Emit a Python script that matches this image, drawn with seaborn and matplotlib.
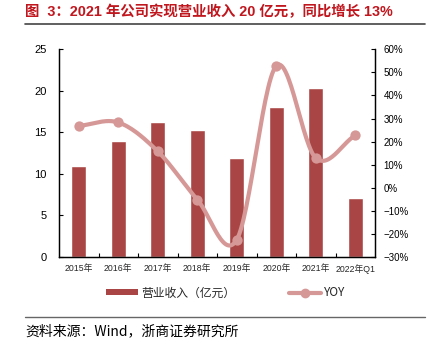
import numpy as np
import pandas as pd
import matplotlib
matplotlib.use("Agg")
import matplotlib.pyplot as plt
from matplotlib.lines import Line2D
from matplotlib.patches import Patch
from matplotlib.ticker import FuncFormatter, MultipleLocator, FixedLocator
import seaborn as sns

categories = ["2015年", "2016年", "2017年", "2018年", "2019年", "2020年", "2021年", "2022年Q1"]
revenue = [10.95, 14.0, 16.2, 15.3, 11.9, 18.05, 20.3, 7.06]
yoy = [26.8, 28.3, 15.8, -5.1, -22.5, 52.8, 12.9, 22.7]

title = "图  3：2021 年公司实现营业收入 20 亿元，同比增长 13%"
source = "资料来源：Wind，浙商证券研究所"
bar_label = "营业收入（亿元）"
line_label = "YOY"

sns.set_theme(style="white")
plt.rcParams["font.family"] = ["Liberation Sans", "Noto Sans CJK SC", "DejaVu Sans"]
plt.rcParams["axes.unicode_minus"] = True

BAR = "#A94645"
LINE = "#D69896"
RED = "#C0161E"
CJK = ["Noto Sans CJK SC", "DejaVu Sans"]

fig = plt.figure(figsize=(4.35, 3.5), dpi=100)
ax = fig.add_axes([59 / 435, 1 - 257 / 350, (375 - 59) / 435, (257 - 49.3) / 350])

df = pd.DataFrame({"cat": categories, "rev": revenue})
sns.barplot(data=df, x="cat", y="rev", color=BAR, saturation=1, width=0.38, ax=ax)
ax.set_xlim(-0.5, len(categories) - 0.5)
ax.set_ylim(0, 25)
ax.yaxis.set_major_locator(MultipleLocator(5))
ax.set_xlabel("")
ax.set_ylabel("")

ax2 = ax.twinx()
# smooth curve (Catmull-Rom) through the YOY points
xs = np.arange(len(yoy), dtype=float)
ys = np.array(yoy, dtype=float)
P = np.column_stack([xs, ys])
P = np.vstack([2 * P[0] - P[1], P, 2 * P[-1] - P[-2]])
cx, cy = [], []
for i in range(1, len(P) - 2):
    p0, p1, p2, p3 = P[i - 1], P[i], P[i + 1], P[i + 2]
    t = np.linspace(0, 1, 30)[:, None]
    seg = 0.5 * ((2 * p1) + (-p0 + p2) * t + (2 * p0 - 5 * p1 + 4 * p2 - p3) * t ** 2
                 + (-p0 + 3 * p1 - 3 * p2 + p3) * t ** 3)
    cx.extend(seg[:, 0]); cy.extend(seg[:, 1])
ax2.plot(cx, cy, color=LINE, lw=3, solid_capstyle="round", zorder=3)
sns.scatterplot(x=xs, y=ys, color=LINE, s=55, edgecolor=LINE, linewidth=0, ax=ax2, zorder=4)
ax2.set_ylim(-30, 60)
ax2.yaxis.set_major_locator(MultipleLocator(10))
ax2.yaxis.set_major_formatter(FuncFormatter(lambda v, p: f"{v:.0f}%".replace("-", "\u2212")))
ax2.set_xlim(-0.5, len(categories) - 0.5)

for a in (ax, ax2):
    for s in a.spines.values():
        s.set_color("black")
        s.set_linewidth(0.9)
    a.spines["top"].set_visible(False)

ax.tick_params(axis="y", direction="in", length=3, width=0.8, pad=9, labelsize=8, left=True, colors="black")
ax2.tick_params(axis="y", direction="in", length=3, width=0.8, pad=6, labelsize=7, right=True, colors="black")
ax.tick_params(axis="x", which="major", length=0, pad=5, labelsize=6.3)
ax.xaxis.set_minor_locator(FixedLocator(np.arange(0.5, len(categories) - 1, 1.0)))
ax.tick_params(axis="x", which="minor", direction="in", length=3, width=0.8, bottom=True, color="black")
for lab in ax.get_xticklabels():
    lab.set_family(["Liberation Sans", "Noto Sans CJK SC"])

# title and rules
fig.text(25 / 435, 1 - 12 / 350, title, color=RED, fontsize=10.4, fontweight="bold",
         family=["Liberation Sans", "Noto Sans CJK SC"], va="center", ha="left")
fig.add_artist(Line2D([25 / 435, 425 / 435], [1 - 23.5 / 350] * 2, color="#444444", lw=1.2))
fig.add_artist(Line2D([25 / 435, 425 / 435], [1 - 317 / 350] * 2, color="#666666", lw=1.0))
fig.text(25 / 435, 1 - 331 / 350, source, fontsize=10, family=CJK, va="center", ha="left", color="black")

# legend
handles = [Patch(facecolor=BAR, edgecolor="none"),
           Line2D([0], [0], color=LINE, lw=3, marker="o", markersize=6)]
fig.legend(handles, [bar_label, line_label], loc="center", bbox_to_anchor=(226 / 435, 1 - 293 / 350),
           ncol=2, frameon=False, fontsize=8.5, handlelength=2.7, handleheight=0.45,
           columnspacing=4.5, handletextpad=0.3, prop={"family": CJK, "size": 8.5})

fig.savefig("out.png", dpi=100)
